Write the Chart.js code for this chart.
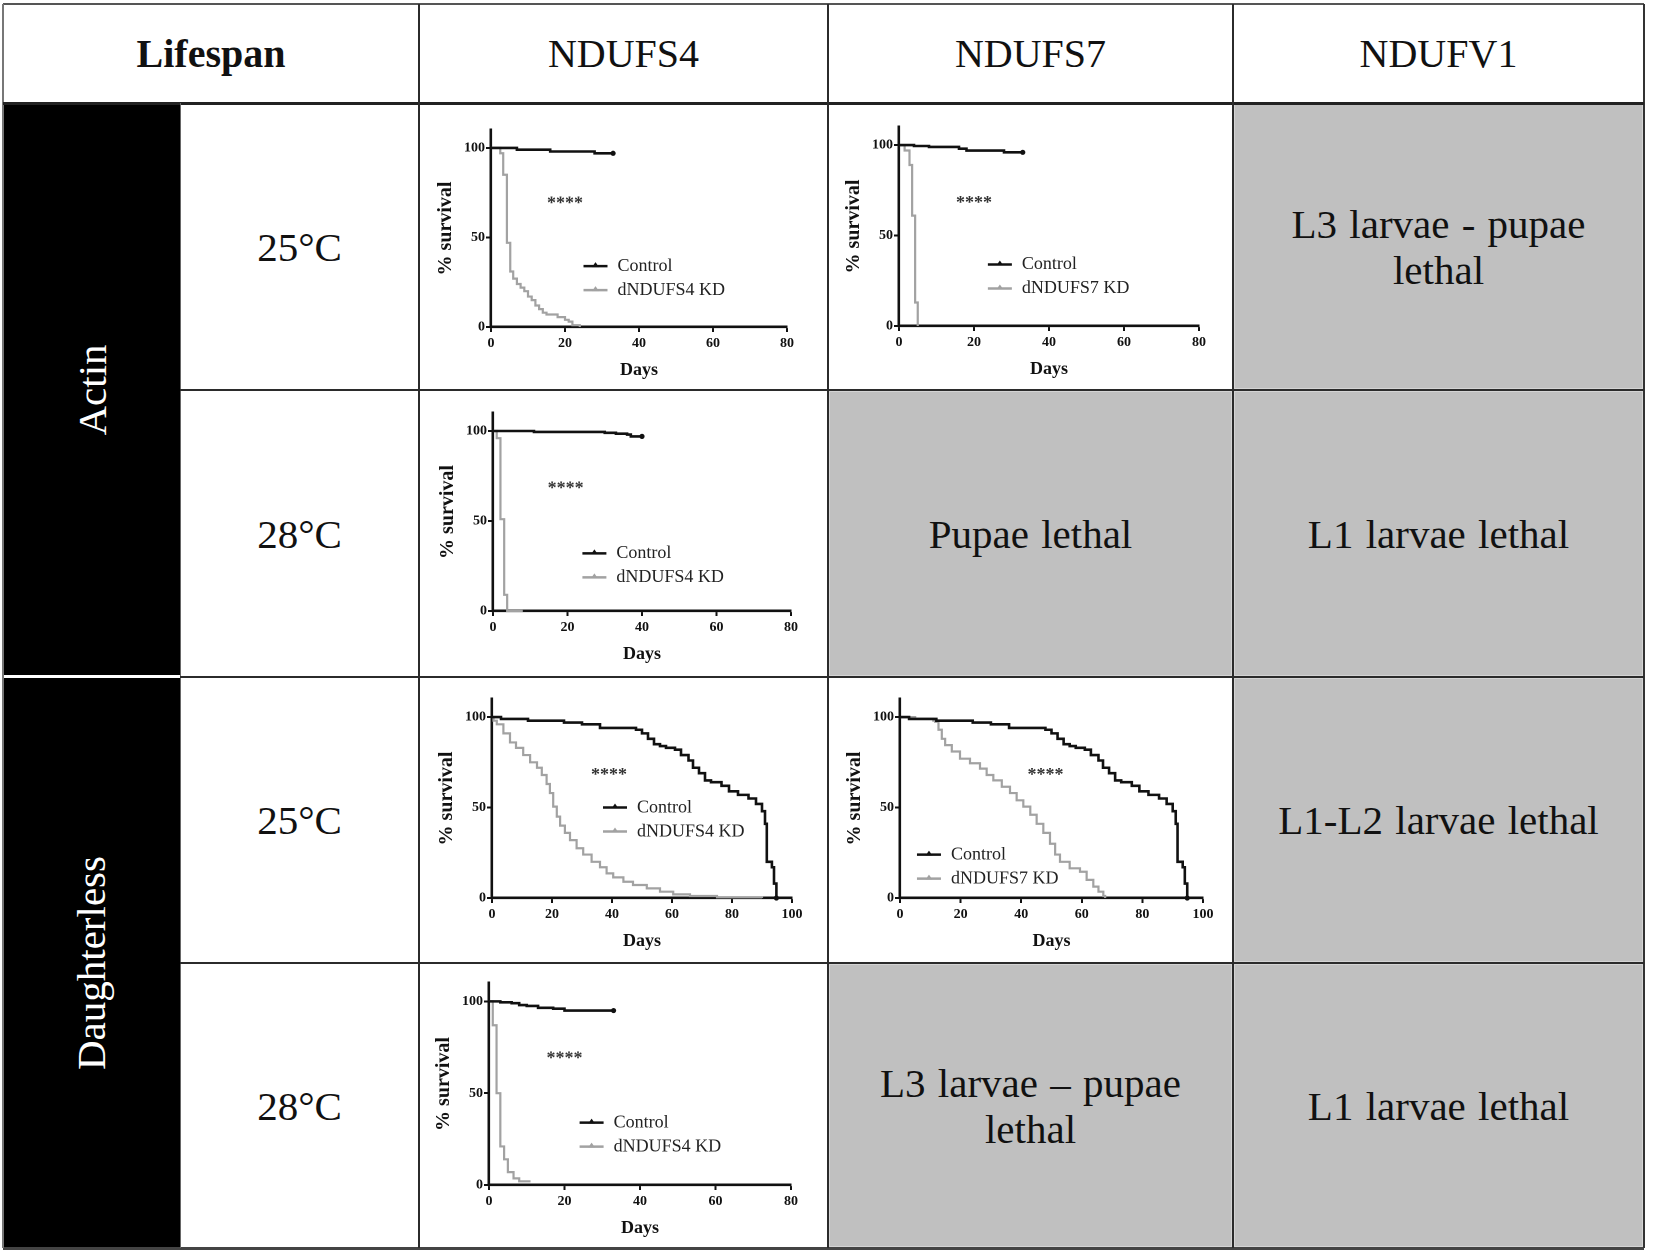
<!DOCTYPE html>
<html>
<head>
<meta charset="utf-8">
<script src="https://cdn.jsdelivr.net/npm/chart.js@4.4.0/dist/chart.umd.min.js"></script>
<style>
  body { margin: 0; width: 1654px; height: 1259px; background: #fff; position: relative; overflow: hidden;
         font-family: 'Liberation Serif', 'Times New Roman', serif; }
  .cell { position: absolute; display: flex; flex-direction: column; align-items: center; justify-content: center;
          text-align: center; box-sizing: border-box; color: #111; }
  .gray { background: #c0c0c0; box-shadow: inset 0 0 0 2px #d4d4d4; }
  .txt { font-size: 41px; line-height: 46px; word-spacing: 2px; }
  .head { font-size: 40px; }
  .head.bold { font-weight: bold; }
  .driver { background: #000; }
  .driver span { color: #fff; font-size: 41px; transform: rotate(-90deg); white-space: nowrap; display: block; }
  .ln { position: absolute; }
  canvas { position: absolute; }
</style>
</head>
<body>
<script>
// table text
const headers = ['Lifespan', 'NDUFS4', 'NDUFS7', 'NDUFV1'];
const drivers = ['Actin', 'Daughterless'];
const temps = ['25°C', '28°C', '25°C', '28°C'];

// axis ticks
const yTicks = [0, 50, 100];
const xTicksShort = [0, 20, 40, 60, 80];
const xTicksLong = [0, 20, 40, 60, 80, 100];

// survival curves, [day, % survival]
const actin25Fs4Control = [[0, 100], [7, 99], [16, 98], [28, 97], [33, 97]];
const actin25Fs4Kd = [[0, 100], [2.5, 97], [3.3, 85], [4.3, 47], [5.2, 31], [6, 27], [7, 24], [8, 22], [9, 20],
  [10, 17], [11, 15], [12, 12], [13, 10], [14, 8], [15, 7], [18, 5.5], [20, 4], [21, 3], [22, 1], [24, 0]];
const actin25Fs7Control = [[0, 100], [4, 99.5], [8, 99], [16, 98], [18, 97], [28, 96], [33, 96]];
const actin25Fs7Kd = [[0, 100], [1.5, 97], [2.8, 89], [3.5, 61], [4.3, 13], [5, 0]];
const actin28Fs4Control = [[0, 100], [11, 99.5], [30, 99], [33, 98.5], [36, 98], [37, 97], [40, 97]];
const actin28Fs4Kd = [[0, 100], [1, 96], [2, 51], [3, 9], [3.8, 0], [8, 0]];
const dah25Control = [[0, 100], [3, 99], [12, 98], [24, 97], [30, 96], [36, 94], [47, 94], [48, 93], [50, 91],
  [52, 88], [54, 85], [56, 84], [58, 83], [61, 82], [63, 79], [65.5, 76], [67, 72], [69, 69], [71, 65], [73, 64],
  [76.5, 62], [79, 59], [82, 57], [85.5, 55], [88, 52], [90, 48], [91, 41], [91.6, 20], [93.3, 17], [94, 8], [94.8, 0]];
const dah25Fs4Kd = [[0, 100], [0.5, 98], [1.6, 96], [3.8, 91], [6, 86], [8, 83], [10.4, 79], [12.7, 75], [15, 72],
  [16.6, 68], [18.2, 63], [19.3, 58], [20.4, 50.5], [21.6, 45], [22.7, 40], [24.3, 36], [26, 32], [28.2, 27.5],
  [30.4, 24], [33.2, 20], [36, 17], [38.2, 13.6], [40.4, 11.4], [43.8, 9], [47, 7.2], [51.6, 5.3], [56, 3.5],
  [60.4, 2], [66, 1.1], [75, 0.4], [90, 0]];
const dah25Fs7Kd = [[0, 100], [5, 99], [11, 98], [11.6, 97.4], [12.7, 93], [13.8, 88], [14.9, 84.5], [17.1, 81],
  [19.8, 77], [23.1, 74.5], [26.4, 71.5], [28.6, 68], [30.8, 65], [33.6, 61.5], [36.3, 58], [38.5, 54], [40.7, 50.5],
  [43, 46], [45.1, 41], [47.3, 36], [49.5, 30], [51.2, 24], [52.8, 20], [56, 16.4], [59.4, 14.5], [61.6, 10],
  [63.8, 6.3], [65.5, 3.5], [67.1, 1.1], [67.7, 0]];
const dah28Fs4Control = [[0, 100], [3, 99.5], [6, 99], [8, 98], [10, 97.5], [13, 96.5], [17, 96], [20, 95], [33, 95]];
const dah28Fs4Kd = [[0, 100], [1, 87], [2, 50], [3, 21], [4, 14], [5, 7], [6.5, 3.6], [8, 2], [11, 2]];

// grid of the table (page px)
const colX = [3, 180, 419, 828, 1233, 1644];
const rowY = [4, 103, 390, 677, 963, 1248];
const Y_W = 70, X_H = 56, PAD_T = 12, PAD_R = 15;
const FONT = 'Liberation Serif';

function cell(x0, y0, x1, y1, cls) {
  const d = document.createElement('div');
  d.className = 'cell ' + cls;
  Object.assign(d.style, { left: x0 + 'px', top: y0 + 'px', width: (x1 - x0) + 'px', height: (y1 - y0) + 'px' });
  document.body.appendChild(d);
  return d;
}
function addText(el, lines) {
  lines.forEach(t => { const s = document.createElement('span'); s.textContent = t; el.appendChild(s); });
}
function line(x0, y0, x1, y1, color, w) {
  const d = document.createElement('div');
  d.className = 'ln';
  const horiz = y0 === y1;
  Object.assign(d.style, {
    left: (horiz ? x0 : x0 - w / 2) + 'px', top: (horiz ? y0 - w / 2 : y0) + 'px',
    width: (horiz ? x1 - x0 : w) + 'px', height: (horiz ? w : y1 - y0) + 'px', background: color
  });
  document.body.appendChild(d);
}

// header
addText(cell(colX[0], rowY[0], colX[2], rowY[1], 'head bold'), [headers[0]]);
for (let i = 1; i < 4; i++) addText(cell(colX[i + 1], rowY[0], colX[i + 2], rowY[1], 'head'), [headers[i]]);

// drivers + temperatures
drivers.forEach((d, i) => addText(cell(colX[0], rowY[1 + 2 * i], colX[1], rowY[3 + 2 * i], 'driver'), [d]));
temps.forEach((t, i) => addText(cell(colX[1], rowY[1 + i], colX[2], rowY[2 + i], 'txt'), [t]));

// lethal phenotypes
const lethal = [
  { row: 1, col: 4, lines: ['L3 larvae - pupae', 'lethal'] },
  { row: 2, col: 3, lines: ['Pupae lethal'] },
  { row: 2, col: 4, lines: ['L1 larvae lethal'] },
  { row: 3, col: 4, lines: ['L1-L2 larvae lethal'] },
  { row: 4, col: 3, lines: ['L3 larvae \u2013 pupae', 'lethal'] },
  { row: 4, col: 4, lines: ['L1 larvae lethal'] }
];
lethal.forEach(l => addText(cell(colX[l.col], rowY[l.row], colX[l.col + 1], rowY[l.row + 1], 'gray txt'), l.lines));

// legend + significance stars drawn inside each plot
const overlay = {
  id: 'overlay',
  afterDatasetsDraw(chart, args, opts) {
    const { ctx, scales: { x, y } } = chart;
    ctx.save();
    ctx.font = `bold 18px "${FONT}"`;
    ctx.fillStyle = '#333';
    ctx.textAlign = 'center';
    ctx.textBaseline = 'middle';
    ctx.fillText('****', x.getPixelForValue(opts.stars[0]), y.getPixelForValue(opts.stars[1]) + 4);
    const lx = x.getPixelForValue(opts.legend[0]);
    let ly = y.getPixelForValue(opts.legend[1]);
    chart.data.datasets.forEach(ds => {
      ctx.strokeStyle = ds.borderColor;
      ctx.fillStyle = ds.borderColor;
      ctx.lineWidth = 2.5;
      ctx.beginPath(); ctx.moveTo(lx, ly); ctx.lineTo(lx + 24, ly); ctx.stroke();
      ctx.beginPath(); ctx.moveTo(lx + 12, ly - 4); ctx.lineTo(lx + 15.5, ly + 1); ctx.lineTo(lx + 8.5, ly + 1);
      ctx.closePath(); ctx.fill();
      ctx.fillStyle = '#222';
      ctx.textAlign = 'left';
      ctx.font = `18px "${FONT}"`;
      ctx.fillText(ds.label, lx + 34, ly);
      ly += 24;
    });
    ctx.restore();
  }
};

const plots = [
  { control: actin25Fs4Control, kd: actin25Fs4Kd, kdLabel: 'dNDUFS4 KD', xTicks: xTicksShort,
    area: { left: 491, right: 787, top: 130, bottom: 327 }, legend: [25, 34], stars: [20, 71] },
  { control: actin25Fs7Control, kd: actin25Fs7Kd, kdLabel: 'dNDUFS7 KD', xTicks: xTicksShort,
    area: { left: 899, right: 1199, top: 127, bottom: 326 }, legend: [23.7, 34], stars: [20, 70] },
  { control: actin28Fs4Control, kd: actin28Fs4Kd, kdLabel: 'dNDUFS4 KD', xTicks: xTicksShort,
    area: { left: 493, right: 791, top: 413, bottom: 611 }, legend: [24, 32], stars: [19.5, 70] },
  { control: dah25Control, kd: dah25Fs4Kd, kdLabel: 'dNDUFS4 KD', xTicks: xTicksLong,
    area: { left: 492, right: 792, top: 699, bottom: 898 }, legend: [37, 50], stars: [39, 70] },
  { control: dah25Control, kd: dah25Fs7Kd, kdLabel: 'dNDUFS7 KD', xTicks: xTicksLong,
    area: { left: 900, right: 1203, top: 699, bottom: 898 }, legend: [5.6, 24], stars: [48, 70] },
  { control: dah28Fs4Control, kd: dah28Fs4Kd, kdLabel: 'dNDUFS4 KD', xTicks: xTicksShort,
    area: { left: 489, right: 791, top: 983, bottom: 1185 }, legend: [24, 34], stars: [20, 71] }
];

const toXY = arr => arr.map(([x, y]) => ({ x, y }));
const tickFont = { family: FONT, size: 14, weight: 'bold' };

plots.forEach(p => {
  const a = p.area;
  const w = Y_W + (a.right - a.left) + PAD_R;
  const h = PAD_T + (a.bottom - a.top) + X_H;
  const cv = document.createElement('canvas');
  Object.assign(cv.style, { left: (a.left - Y_W) + 'px', top: (a.top - PAD_T) + 'px', width: w + 'px', height: h + 'px' });
  cv.width = w; cv.height = h;
  document.body.appendChild(cv);
  const last = p.control.length - 1;
  new Chart(cv, {
    type: 'line',
    data: {
      datasets: [
        { label: 'Control', data: toXY(p.control), borderColor: '#111', borderWidth: 2.6, stepped: true,
          pointRadius: c => (c.dataIndex === last ? 2.6 : 0), pointBackgroundColor: '#111', pointBorderWidth: 0, clip: 4 },
        { label: p.kdLabel, data: toXY(p.kd), borderColor: '#a2a2a2', borderWidth: 2.2, stepped: true,
          pointRadius: 0, clip: 4 }
      ]
    },
    options: {
      responsive: false,
      animation: false,
      devicePixelRatio: 2,
      layout: { padding: { left: 0, top: PAD_T, right: PAD_R, bottom: 0 } },
      plugins: { legend: { display: false }, tooltip: { enabled: false },
                 overlay: { legend: p.legend, stars: p.stars } },
      scales: {
        x: {
          type: 'linear', min: 0, max: p.xTicks[p.xTicks.length - 1],
          afterBuildTicks: s => { s.ticks = p.xTicks.map(v => ({ value: v })); },
          afterFit: s => { s.height = X_H; },
          ticks: { font: tickFont, color: '#111', padding: 3, maxRotation: 0 },
          grid: { drawOnChartArea: false, tickLength: 5, tickWidth: 2, color: '#111' },
          border: { color: '#111', width: 2.6 },
          title: { display: true, text: 'Days', color: '#111', font: { family: FONT, size: 18, weight: 'bold' },
                   padding: { top: 0, bottom: 2 } }
        },
        y: {
          type: 'linear', min: 0, max: 110,
          afterBuildTicks: s => { s.ticks = yTicks.map(v => ({ value: v })); },
          afterFit: s => { s.width = Y_W; },
          ticks: { font: tickFont, color: '#111', padding: 1 },
          grid: { drawOnChartArea: false, tickLength: 5, tickWidth: 2, color: '#111' },
          border: { color: '#111', width: 2.6 },
          title: { display: true, text: '% survival', color: '#111', font: { family: FONT, size: 20, weight: 'bold' },
                   padding: { top: 13, bottom: 0 } }
        }
      }
    },
    plugins: [overlay]
  });
});

// rules of the table
const dark = '#2b2b2b';
line(colX[0], rowY[0], colX[5], rowY[0], '#555', 2);
line(colX[0], rowY[5], colX[5], rowY[5], '#444', 3);
line(colX[0], rowY[0], colX[0], rowY[5], '#777', 2);
line(colX[5], rowY[0], colX[5], rowY[5], '#333', 2);
line(colX[0], rowY[1], colX[5], rowY[1], '#222', 3);
[2, 3, 4].forEach(i => line(colX[i], rowY[0], colX[i], rowY[5], dark, 2));
line(colX[1], rowY[1], colX[1], rowY[5], '#666', 1);
[2, 4].forEach(r => line(colX[1], rowY[r], colX[5], rowY[r], dark, 2.5));
line(colX[1], rowY[3], colX[5], rowY[3], dark, 2.5);
line(colX[0] + 1, rowY[3] - 1, colX[1], rowY[3] - 1, '#fff', 3);
</script>
</body>
</html>
